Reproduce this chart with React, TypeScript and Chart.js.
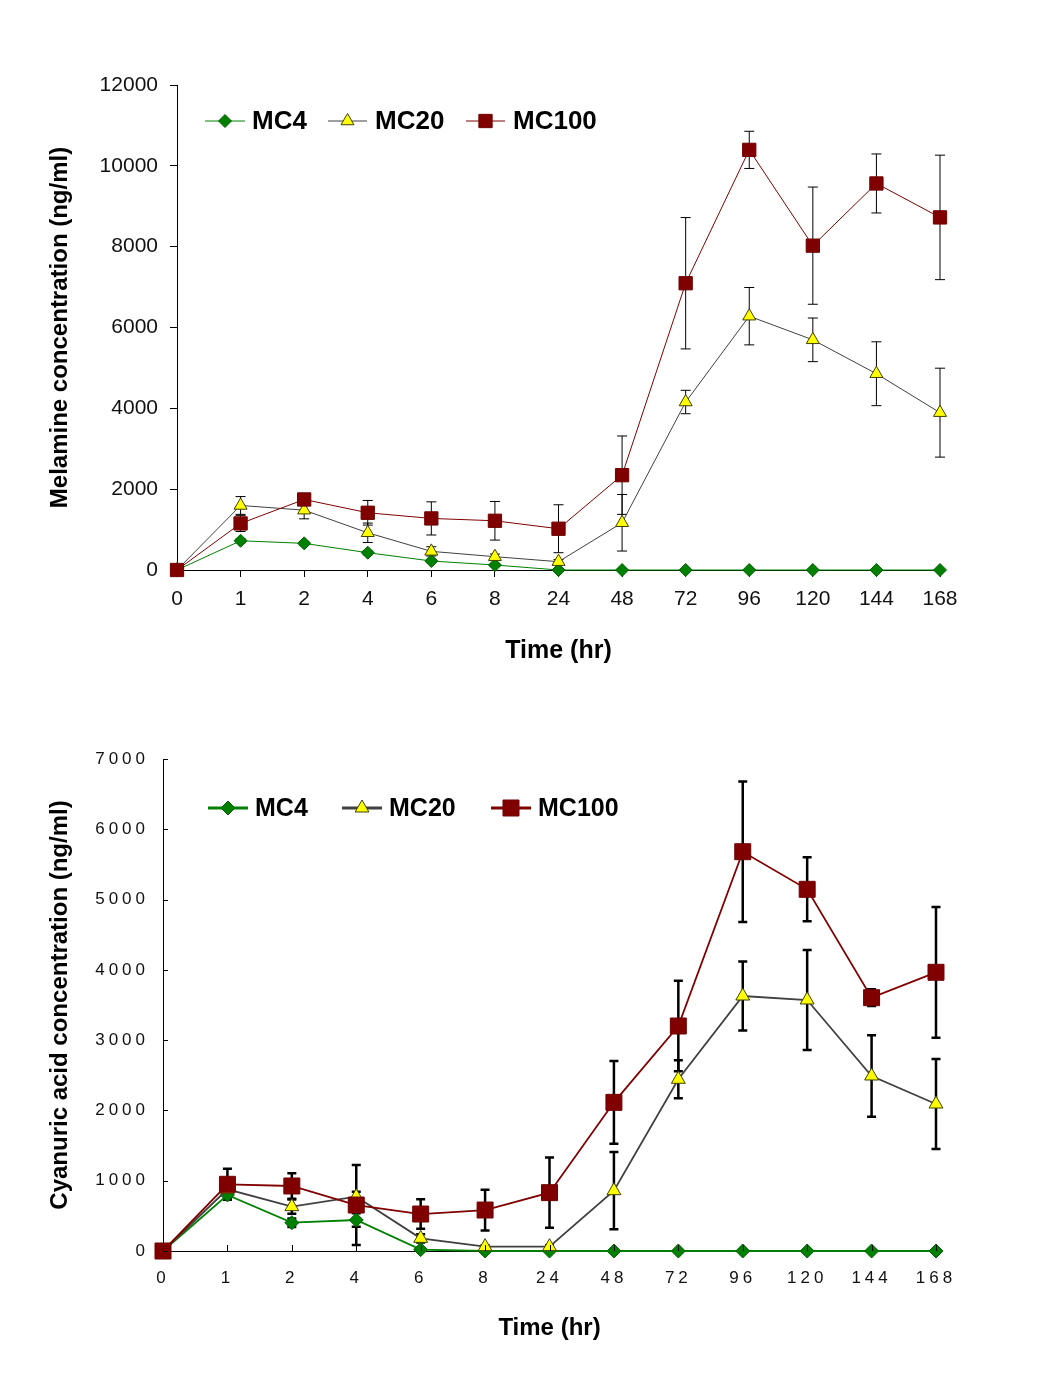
import React, { useEffect, useRef } from 'react';
import { Chart, registerables } from 'chart.js';

Chart.register(...registerables);
Chart.defaults.font.family = '"Liberation Sans", Arial, sans-serif';
Chart.defaults.color = '#111';

// ---------- data ----------
const timeLabels = ['0', '1', '2', '4', '6', '8', '24', '48', '72', '96', '120', '144', '168'];
const seriesNames = ['MC4', 'MC20', 'MC100'];

// Melamine (top chart)
const melMC4 = [0, 723, 659, 428, 222, 123, 0, 0, 0, 0, 0, 0, 0];
const melMC4Err = [0, 50, 50, 50, 40, 30, 0, 0, 0, 0, 0, 0, 0];
const melMC20 = [0, 1597, 1481, 921, 461, 329, 206, 1169, 4156, 6280, 5695, 4856, 3893];
const melMC20Err = [0, 220, 215, 240, 115, 66, 50, 700, 290, 710, 540, 790, 1100];
const melMC100 = [0, 1152, 1745, 1416, 1276, 1218, 1021, 2346, 7095, 10395, 8025, 9564, 8724];
const melMC100Err = [0, 200, 150, 305, 410, 478, 593, 970, 1625, 460, 1450, 730, 1540];

// Cyanuric acid (bottom chart)
const cyaMC4 = [0, 797, 403, 441, 20, 0, 0, 0, 0, 0, 0, 0, 0];
const cyaMC4Err = [0, 57, 60, 95, 20, 0, 0, 0, 0, 0, 0, 0, 0];
const cyaMC20 = [0, 877, 631, 773, 180, 62, 62, 858, 2443, 3628, 3571, 2490, 2091];
const cyaMC20Err = [0, 60, 100, 70, 60, 20, 20, 550, 270, 490, 710, 580, 640];
const cyaMC100 = [0, 949, 925, 654, 526, 583, 830, 2115, 3201, 5681, 5146, 3604, 3965];
const cyaMC100Err = [0, 220, 180, 570, 210, 290, 500, 590, 645, 1000, 455, 120, 930];

const melYTicks = [0, 2000, 4000, 6000, 8000, 10000, 12000];
const cyaYTicks = [0, 1000, 2000, 3000, 4000, 5000, 6000, 7000];

// ---------- helpers ----------
function drawMarker(ctx: CanvasRenderingContext2D, style: string, x: number, y: number, r: number, fill: string, stroke: string) {
  ctx.beginPath();
  if (style === 'rectRot') {
    ctx.moveTo(x - r, y);
    ctx.lineTo(x, y + r);
    ctx.lineTo(x + r, y);
    ctx.lineTo(x, y - r);
    ctx.closePath();
  } else if (style === 'triangle') {
    ctx.moveTo(x, y - r);
    ctx.lineTo(x + 0.866 * r, y + 0.5 * r);
    ctx.lineTo(x - 0.866 * r, y + 0.5 * r);
    ctx.closePath();
  } else {
    const s = r * Math.SQRT1_2;
    ctx.rect(x - s, y - s, 2 * s, 2 * s);
  }
  ctx.fillStyle = fill;
  ctx.fill();
  ctx.strokeStyle = stroke;
  ctx.lineWidth = 1;
  ctx.stroke();
}

function makeErrorBarPlugin(width: number, cap: number) {
  return {
    id: 'errorBars',
    beforeDatasetsDraw(chart: any) {
      const ctx = chart.ctx;
      const xs = chart.scales.x;
      const ys = chart.scales.y;
      ctx.save();
      ctx.strokeStyle = '#000';
      ctx.lineWidth = width;
      chart.data.datasets.forEach((ds: any) => {
        const errs: number[] = ds.errors;
        if (!errs) return;
        ds.data.forEach((v: number, i: number) => {
          const e = errs[i];
          if (!e) return;
          const px = xs.getPixelForValue(i);
          const top = ys.getPixelForValue(v + e);
          const bot = ys.getPixelForValue(v - e);
          ctx.beginPath();
          ctx.moveTo(px, top);
          ctx.lineTo(px, bot);
          ctx.moveTo(px - cap, top);
          ctx.lineTo(px + cap, top);
          ctx.moveTo(px - cap, bot);
          ctx.lineTo(px + cap, bot);
          ctx.stroke();
        });
      });
      ctx.restore();
    },
  };
}

function makeLegendPlugin(y: number, items: { x0: number; x1: number; tx: number }[], fontSize: number, lineW: number) {
  return {
    id: 'customLegend',
    afterDraw(chart: any) {
      const ctx = chart.ctx;
      ctx.save();
      (ctx as any).letterSpacing = '0px';
      chart.data.datasets.forEach((ds: any, i: number) => {
        const it = items[i];
        ctx.beginPath();
        ctx.strokeStyle = ds.borderColor;
        ctx.lineWidth = lineW;
        ctx.moveTo(it.x0, y);
        ctx.lineTo(it.x1, y);
        ctx.stroke();
        drawMarker(ctx, ds.pointStyle, (it.x0 + it.x1) / 2, y, ds.pointRadius, ds.pointBackgroundColor, ds.pointBorderColor);
        ctx.fillStyle = '#000';
        ctx.font = `bold ${fontSize}px "Liberation Sans", Arial, sans-serif`;
        ctx.textAlign = 'left';
        ctx.textBaseline = 'middle';
        ctx.fillText(ds.label, it.tx, y + 1);
      });
      ctx.restore();
    },
  };
}

const insideTicksPlugin = {
  id: 'insideTicks',
  afterDraw(chart: any) {
    const ctx = chart.ctx;
    const xs = chart.scales.x;
    const ys = chart.scales.y;
    const area = chart.chartArea;
    ctx.save();
    (ctx as any).letterSpacing = '0px';
    ctx.strokeStyle = '#000';
    ctx.lineWidth = 1;
    ctx.beginPath();
    ys.ticks.forEach((t: any) => {
      const py = Math.round(ys.getPixelForValue(t.value)) + 0.5;
      ctx.moveTo(area.left, py);
      ctx.lineTo(area.left + 5, py);
    });
    xs.ticks.forEach((_t: any, i: number) => {
      const px = Math.round(xs.getPixelForValue(i)) + 0.5;
      ctx.moveTo(px, area.bottom);
      ctx.lineTo(px, area.bottom - 6);
    });
    ctx.stroke();
    ctx.restore();
  },
};

const spacingPlugin = {
  id: 'spacing',
  beforeDraw(chart: any) {
    (chart.ctx as any).letterSpacing = '0px';
  },
  afterDatasetsDraw(chart: any) {
    (chart.ctx as any).letterSpacing = '4px';
  },
  afterDraw(chart: any) {
    (chart.ctx as any).letterSpacing = '0px';
  },
};

const plainNumber = (v: any) => String(v);

function buildDatasets(v4: number[], e4: number[], v20: number[], e20: number[], v100: number[], e100: number[], big: boolean) {
  const lw = big ? 1.8 : 1;
  return [
    {
      label: seriesNames[0],
      data: v4,
      errors: e4,
      borderColor: '#008000',
      borderWidth: lw,
      pointStyle: 'rectRot',
      pointRadius: big ? 7 : 6.5,
      pointBackgroundColor: '#008000',
      pointBorderColor: '#006000',
      pointBorderWidth: 1,
      tension: 0,
      clip: false,
      order: 2,
    },
    {
      label: seriesNames[1],
      data: v20,
      errors: e20,
      borderColor: '#404040',
      borderWidth: lw,
      pointStyle: 'triangle',
      pointRadius: big ? 8 : 7.5,
      pointBackgroundColor: '#FFFF00',
      pointBorderColor: '#404000',
      pointBorderWidth: 1,
      tension: 0,
      clip: false,
      order: 1,
    },
    {
      label: seriesNames[2],
      data: v100,
      errors: e100,
      borderColor: '#800000',
      borderWidth: lw,
      pointStyle: 'rect',
      pointRadius: big ? 11.3 : 9.4,
      pointBackgroundColor: '#800000',
      pointBorderColor: '#700000',
      pointBorderWidth: 1,
      tension: 0,
      clip: false,
      order: 0,
    },
  ];
}

function TopChart() {
  const ref = useRef<HTMLCanvasElement>(null);
  useEffect(() => {
    const chart = new Chart(ref.current as HTMLCanvasElement, {
      type: 'line',
      data: {
        labels: timeLabels,
        datasets: buildDatasets(melMC4, melMC4Err, melMC20, melMC20Err, melMC100, melMC100Err, false) as any,
      },
      options: {
        responsive: false,
        animation: false,
        devicePixelRatio: 1,
        layout: { padding: { left: 0, right: 100, top: 77, bottom: 18 } },
        plugins: { legend: { display: false }, tooltip: { enabled: false } },
        scales: {
          x: {
            type: 'category',
            offset: false,
            afterFit: (s: any) => { s.height = 100; },
            grid: { drawOnChartArea: false, drawTicks: true, tickLength: 7, color: '#000' },
            border: { display: true, color: '#000', width: 1 },
            ticks: { font: { size: 21 }, padding: 10, autoSkip: false, maxRotation: 0, color: '#111' },
            title: {
              display: true,
              text: 'Time (hr)',
              font: { size: 25, weight: 'bold' },
              color: '#000',
              padding: { top: 0, bottom: 4 },
            },
          },
          y: {
            min: 0,
            max: 12000,
            afterFit: (s: any) => { s.width = 169; },
            afterBuildTicks: (s: any) => { s.ticks = melYTicks.map((v) => ({ value: v })); },
            grid: { drawOnChartArea: false, drawTicks: true, tickLength: 7, color: '#000' },
            border: { display: true, color: '#000', width: 1 },
            ticks: { font: { size: 21 }, padding: 12, color: '#111', callback: plainNumber },
            title: {
              display: true,
              text: 'Melamine concentration (ng/ml)',
              font: { size: 24, weight: 'bold' },
              color: '#000',
              padding: { top: 37.6, bottom: 0 },
            },
          },
        },
      } as any,
      plugins: [
        makeErrorBarPlugin(1, 5),
        makeLegendPlugin(113, [
          { x0: 197, x1: 237, tx: 244 },
          { x0: 320, x1: 359, tx: 367 },
          { x0: 458, x1: 497, tx: 505 },
        ], 26, 1),
      ] as any,
    });
    return () => chart.destroy();
  }, []);
  return <canvas ref={ref} width={1032} height={680} style={{ display: 'block' }} />;
}

function BottomChart() {
  const ref = useRef<HTMLCanvasElement>(null);
  useEffect(() => {
    const chart = new Chart(ref.current as HTMLCanvasElement, {
      type: 'line',
      data: {
        labels: timeLabels,
        datasets: buildDatasets(cyaMC4, cyaMC4Err, cyaMC20, cyaMC20Err, cyaMC100, cyaMC100Err, true) as any,
      },
      options: {
        responsive: false,
        animation: false,
        devicePixelRatio: 1,
        layout: { padding: { left: 0, right: 104, top: 71, bottom: 17 } },
        plugins: { legend: { display: false }, tooltip: { enabled: false } },
        scales: {
          x: {
            type: 'category',
            offset: false,
            afterFit: (s: any) => { s.height = 100; },
            grid: { drawOnChartArea: false, drawTicks: false },
            border: { display: true, color: '#000', width: 1 },
            ticks: { font: { size: 17 }, padding: 17.5, autoSkip: false, maxRotation: 0, color: '#111', z: 1 },
            title: {
              display: true,
              text: 'Time (hr)',
              font: { size: 24, weight: 'bold' },
              color: '#000',
              padding: { top: 0, bottom: 8.6 },
            },
          },
          y: {
            min: 0,
            max: 7000,
            afterFit: (s: any) => { s.width = 155; },
            afterBuildTicks: (s: any) => { s.ticks = cyaYTicks.map((v) => ({ value: v })); },
            grid: { drawOnChartArea: false, drawTicks: false },
            border: { display: true, color: '#000', width: 1 },
            ticks: { font: { size: 17 }, padding: 14, color: '#111', z: 1, callback: plainNumber },
            title: {
              display: true,
              text: 'Cyanuric acid concentration (ng/ml)',
              font: { size: 24, weight: 'bold' },
              color: '#000',
              padding: { top: 37.6, bottom: 0 },
            },
          },
        },
      } as any,
      plugins: [
        makeErrorBarPlugin(2.5, 4.5),
        spacingPlugin,
        insideTicksPlugin,
        makeLegendPlugin(120, [
          { x0: 200, x1: 240, tx: 247 },
          { x0: 334, x1: 374, tx: 381 },
          { x0: 483, x1: 523, tx: 530 },
        ], 25, 3),
      ] as any,
    });
    return () => chart.destroy();
  }, []);
  return <canvas ref={ref} width={1032} height={680} style={{ display: 'block' }} />;
}

export default function App() {
  return (
    <div style={{ width: 1032 }}>
      <TopChart />
      <BottomChart />
    </div>
  );
}
